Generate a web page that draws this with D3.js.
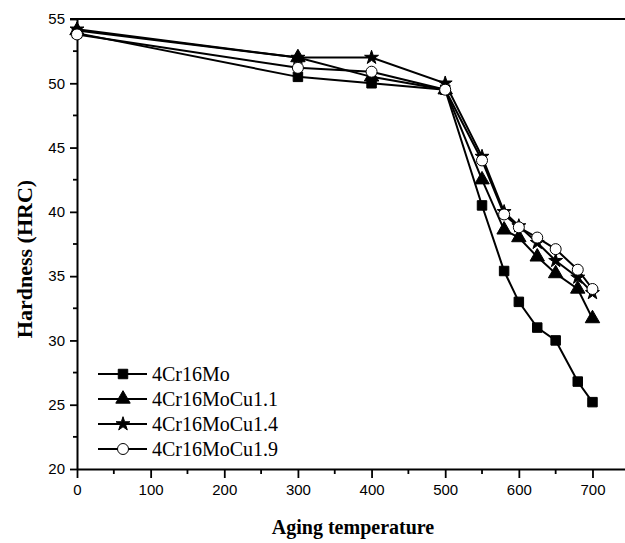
<!DOCTYPE html>
<html>
<head>
<meta charset="utf-8">
<script src="https://cdn.jsdelivr.net/npm/d3@7"></script>
<style>
  body { margin: 0; background: #fff; }
  svg { display: block; }
</style>
</head>
<body>
<div id="chart"></div>
<script>
// Aging temperature points
const temps = [0, 300, 400, 500, 550, 580, 600, 625, 650, 680, 700];

// Hardness (HRC) for each alloy
const mo    = [53.9, 50.5, 50.0, 49.5, 40.5, 35.4, 33.0, 31.0, 30.0, 26.8, 25.2];
const cu11  = [54.1, 52.0, 50.5, 49.5, 42.5, 38.6, 38.0, 36.5, 35.2, 34.0, 31.7];
const cu14  = [54.2, 52.0, 52.0, 50.0, 44.3, 40.0, 38.9, 37.6, 36.2, 34.9, 33.7];
const cu19  = [53.8, 51.2, 50.9, 49.5, 44.0, 39.8, 38.8, 38.0, 37.1, 35.5, 34.0];

const seriesNames = ["4Cr16Mo", "4Cr16MoCu1.1", "4Cr16MoCu1.4", "4Cr16MoCu1.9"];
const seriesValues = [mo, cu11, cu14, cu19];

const xTicks = [0, 100, 200, 300, 400, 500, 600, 700];
const yTicks = [20, 25, 30, 35, 40, 45, 50, 55];

const W = 625, H = 543;
const svg = d3.select("#chart").append("svg")
    .attr("width", W)
    .attr("height", H);

const x = d3.scaleLinear().domain([0, 750]).range([77, 77 + 0.7364 * 750]);
const y = d3.scaleLinear().domain([20, 55]).range([469, 19]);

// marker shapes per series
const markers = [
    {type: d3.symbolSquare, size: 90, fill: "#000"},
    {type: d3.symbolTriangle, size: 90, fill: "#000"},
    {type: d3.symbolStar, size: 60, fill: "#000"},
    {type: d3.symbolCircle, size: 95, fill: "#fff"}
];

// top frame line
svg.append("line")
    .attr("x1", 70).attr("x2", W)
    .attr("y1", y(55)).attr("y2", y(55))
    .attr("stroke", "#000").attr("stroke-width", 2);

// x axis
const xAxis = svg.append("g")
    .attr("transform", `translate(0,${y(20)})`)
    .call(d3.axisBottom(x).tickValues(xTicks).tickSize(9).tickPadding(6).tickSizeOuter(0));
xAxis.select(".domain").attr("stroke-width", 2);
xAxis.selectAll(".tick line").attr("stroke-width", 1.8);
xAxis.selectAll("text")
    .style("font-family", "'Liberation Sans', Arial, sans-serif")
    .style("font-size", "15px");
// minor x ticks
xAxis.selectAll(".minor")
    .data(d3.range(50, 751, 100))
    .enter().append("line")
    .attr("class", "minor")
    .attr("x1", d => x(d)).attr("x2", d => x(d))
    .attr("y1", 0).attr("y2", 5)
    .attr("stroke", "#000").attr("stroke-width", 1.8);

// y axis
const yAxis = svg.append("g")
    .attr("transform", `translate(${x(0)},0)`)
    .call(d3.axisLeft(y).tickValues(yTicks).tickSize(7).tickPadding(5).tickSizeOuter(0));
yAxis.select(".domain").attr("stroke-width", 2);
yAxis.selectAll(".tick line").attr("stroke-width", 1.8);
yAxis.selectAll("text")
    .style("font-family", "'Liberation Sans', Arial, sans-serif")
    .style("font-size", "15px");
yAxis.selectAll(".minor")
    .data(d3.range(22.5, 55, 5))
    .enter().append("line")
    .attr("class", "minor")
    .attr("y1", d => y(d)).attr("y2", d => y(d))
    .attr("x1", 0).attr("x2", -4)
    .attr("stroke", "#000").attr("stroke-width", 1.8);

// series lines and markers
const line = d3.line()
    .x((d, i) => x(temps[i]))
    .y(d => y(d));

seriesValues.forEach((vals, s) => {
    svg.append("path")
        .datum(vals)
        .attr("d", line)
        .attr("fill", "none")
        .attr("stroke", "#000")
        .attr("stroke-width", 2);
});

seriesValues.forEach((vals, s) => {
    const m = markers[s];
    svg.append("g").selectAll("path")
        .data(vals)
        .enter().append("path")
        .attr("transform", (d, i) => `translate(${x(temps[i])},${y(d)})`)
        .attr("d", d3.symbol().type(m.type).size(m.size))
        .attr("fill", m.fill)
        .attr("stroke", "#000")
        .attr("stroke-width", 1);
});

// legend
const legend = svg.append("g");
seriesNames.forEach((name, s) => {
    const ly = 374 + s * 25;
    const m = markers[s];
    legend.append("line")
        .attr("x1", 98).attr("x2", 147)
        .attr("y1", ly).attr("y2", ly)
        .attr("stroke", "#000").attr("stroke-width", 2);
    legend.append("path")
        .attr("transform", `translate(123,${ly})`)
        .attr("d", d3.symbol().type(m.type).size(m.size))
        .attr("fill", m.fill)
        .attr("stroke", "#000")
        .attr("stroke-width", 1);
    legend.append("text")
        .attr("x", 152).attr("y", ly + 7)
        .style("font-family", "'Liberation Serif', 'Times New Roman', serif")
        .style("font-size", "20px")
        .text(name);
});

// axis titles
svg.append("text")
    .attr("x", 353).attr("y", 534)
    .attr("text-anchor", "middle")
    .style("font-family", "'Liberation Serif', 'Times New Roman', serif")
    .style("font-weight", "bold")
    .style("font-size", "20px")
    .text("Aging temperature");

svg.append("text")
    .attr("transform", "translate(32,259) rotate(-90)")
    .attr("text-anchor", "middle")
    .style("font-family", "'Liberation Serif', 'Times New Roman', serif")
    .style("font-weight", "bold")
    .style("font-size", "22px")
    .text("Hardness (HRC)");
</script>
</body>
</html>
